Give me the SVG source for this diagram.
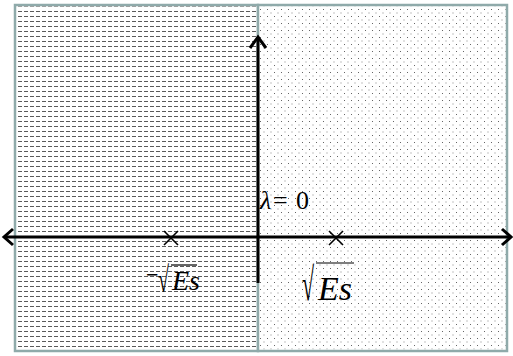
<svg xmlns="http://www.w3.org/2000/svg" width="513" height="356" viewBox="0 0 513 356">
<defs>
<pattern id="dash" x="0" y="1" width="6" height="5" patternUnits="userSpaceOnUse">
<rect x="0" y="0" width="4" height="1" fill="#5a5a5a"/>
</pattern>
<pattern id="dots" x="0" y="2" width="7" height="7" patternUnits="userSpaceOnUse">
<rect x="1" y="0" width="1" height="1" fill="#666"/>
<rect x="4.5" y="3.5" width="1" height="1" fill="#888"/>
</pattern>
<style>
.region{stroke:#8faaaa;stroke-width:2.5}
.axis{stroke:#000;stroke-width:3;fill:none}
.cross{stroke:#000;stroke-width:1.6}
.math{font-family:"Liberation Serif","Times New Roman",serif;fill:#000}
</style>
</defs>
<rect width="513" height="356" fill="#fff"/>
<g id="left-region">
<rect x="15" y="5" width="243" height="346" fill="#fff" class="region"/>
<rect x="16.5" y="6.5" width="240" height="343" fill="url(#dash)"/>
</g>
<g id="right-region">
<rect x="258" y="5" width="249" height="346" fill="#fff" class="region"/>
<rect x="259.5" y="6.5" width="246" height="343" fill="url(#dots)"/>
</g>
<g id="connectors">
<line x1="5" y1="237" x2="510" y2="237" class="axis"/>
<path d="M13,229 L4,237 L13,245" class="axis" stroke-width="2.5"/>
<path d="M502,229 L511,237 L502,245" class="axis" stroke-width="2.5"/>
<line x1="258" y1="283" x2="258" y2="38" class="axis"/>
<path d="M250,48 L258,37 L266,48" class="axis" stroke-width="2.5"/>
</g>
<g id="pole-neg">
<line x1="164" y1="231" x2="178" y2="245" class="cross"/>
<line x1="178" y1="231" x2="164" y2="245" class="cross"/>
</g>
<g id="pole-pos">
<line x1="329" y1="231" x2="343" y2="245" class="cross"/>
<line x1="343" y1="231" x2="329" y2="245" class="cross"/>
</g>
<g id="label-lambda">
<text x="260" y="209" class="math" font-size="26"><tspan font-style="italic">λ</tspan><tspan x="273">=</tspan><tspan x="296">0</tspan></text>
</g>
<g id="label-neg">
<text x="146" y="282" class="math" font-size="22" font-weight="bold">−</text>
<text transform="translate(158,292) scale(1,1.8)" class="math" font-size="20">√</text>
<line x1="171" y1="265" x2="197" y2="265" stroke="#000" stroke-width="1.2"/>
<text x="172" y="290" class="math" font-size="28" font-style="italic">Es</text>
</g>
<g id="label-pos">
<text transform="translate(302,300) scale(1,2.1)" class="math" font-size="22">√</text>
<line x1="316" y1="263" x2="354" y2="263" stroke="#000" stroke-width="1.2"/>
<text x="318" y="300" class="math" font-size="34" font-style="italic">Es</text>
</g>
</svg>
